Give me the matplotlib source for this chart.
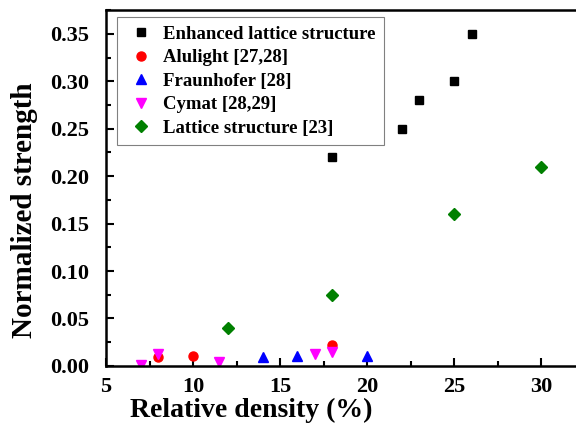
import matplotlib.pyplot as plt
from matplotlib.ticker import MultipleLocator

plt.rcParams['font.family'] = ['Liberation Serif', 'DejaVu Serif']
plt.rcParams['font.weight'] = 'bold'

# data
enh_x = [18, 22, 23, 25, 26]
enh_y = [0.22, 0.25, 0.28, 0.30, 0.35]
alu_x = [8, 10, 18]
alu_y = [0.009, 0.010, 0.022]
fra_x = [14, 16, 20]
fra_y = [0.009, 0.010, 0.0105]
cym_x = [7, 8, 11.5, 17, 18]
cym_y = [0.001, 0.013, 0.0045, 0.0126, 0.015]
lat_x = [12, 18, 25, 30]
lat_y = [0.040, 0.075, 0.16, 0.21]

fig = plt.figure(figsize=(5.76, 4.43), dpi=100)
ax = fig.add_axes([0.184, 0.174, 0.816, 0.803])

ax.plot(enh_x, enh_y, 's', color='black', ms=6, label='Enhanced lattice structure')
ax.plot(alu_x, alu_y, 'o', color='red', ms=6.5, label='Alulight [27,28]')
ax.plot(fra_x, fra_y, '^', color='blue', ms=7, label='Fraunhofer [28]')
ax.plot(cym_x, cym_y, 'v', color='magenta', ms=7, label='Cymat [28,29]')
ax.plot(lat_x, lat_y, 'D', color='green', ms=6, label='Lattice structure [23]')

ax.set_xlim(5, 32)
ax.set_ylim(0, 0.375)
ax.xaxis.set_major_locator(MultipleLocator(5))
ax.yaxis.set_major_locator(MultipleLocator(0.05))
ax.yaxis.set_minor_locator(MultipleLocator(0.025))
ax.xaxis.set_minor_locator(MultipleLocator(2.5))
ax.yaxis.set_major_formatter(plt.FormatStrFormatter('%.2f'))
ax.tick_params(which='both', direction='in', labelsize=16, width=1.5)
ax.tick_params(which='major', length=6)
ax.tick_params(which='minor', length=3.5)
ax.tick_params(axis='y', pad=12)
ax.tick_params(axis='x', pad=8)
for s in ax.spines.values():
    s.set_linewidth(1.8)
ax.spines['right'].set_visible(False)

ax.set_xlabel('Relative density (%)', fontsize=20, fontweight='bold')
ax.set_ylabel('Normalized strength', fontsize=21, fontweight='bold')
ax.xaxis.label.set_va('center')
ax.yaxis.label.set_va('center')
ax.xaxis.set_label_coords(0.31, -0.126)
ax.yaxis.set_label_coords(-0.174, 0.438)

leg = ax.legend(loc='upper left', bbox_to_anchor=(0.023, 0.98), borderaxespad=0,
                fontsize=13.5, fancybox=False, framealpha=1, edgecolor='gray',
                handletextpad=0.3, labelspacing=0.34, borderpad=0.45,
                handlelength=1.7)
leg.get_frame().set_linewidth(0.8)

fig.savefig('out.png', dpi=100)
